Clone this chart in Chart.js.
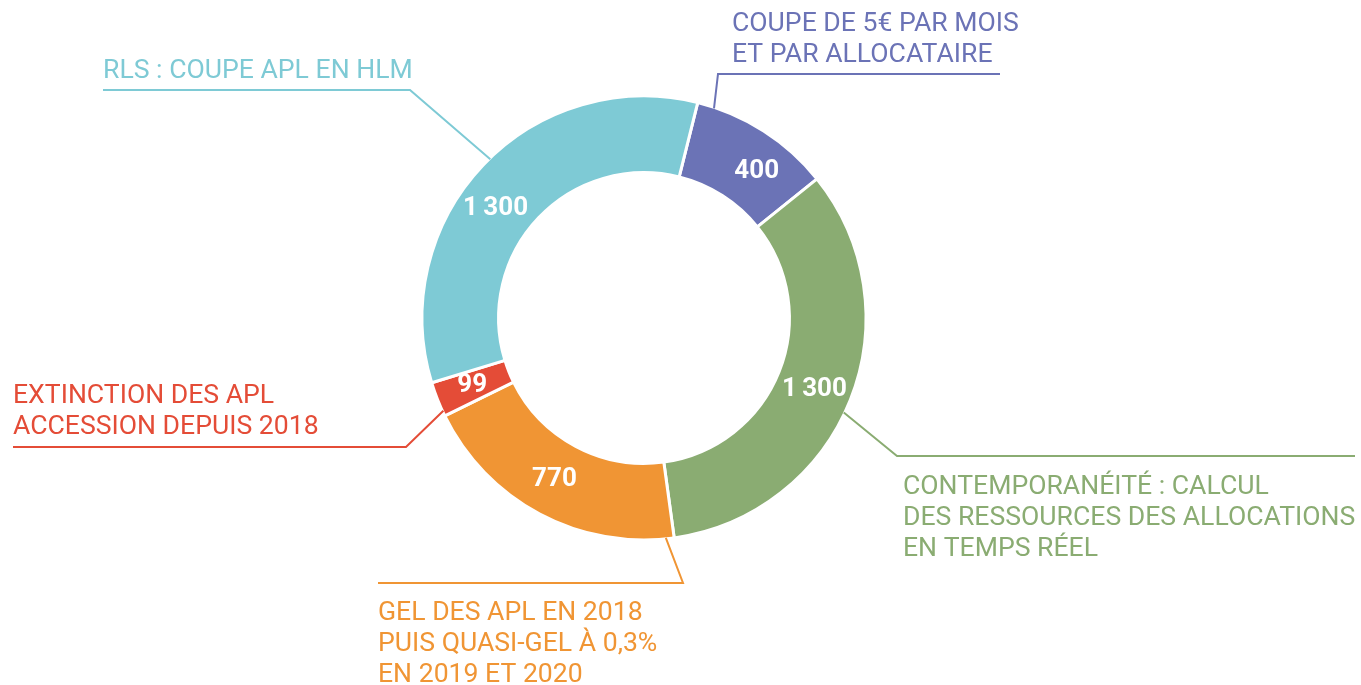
<!DOCTYPE html>
<html lang="fr">
<head>
<meta charset="utf-8">
<title>Coupes APL</title>
<script src="https://cdn.jsdelivr.net/npm/chart.js@4"></script>
<style>
  html, body { margin: 0; padding: 0; background: #fff; }
  #wrap { position: relative; width: 1361px; height: 685px; }
</style>
</head>
<body>
<div id="wrap"><canvas id="donut"></canvas></div>
<script>
// ─── DATA ──────────────────────────────────────────────────────
// Clockwise from the top, one entry per slice
const categories = [
  ['COUPE DE 5€ PAR MOIS', 'ET PAR ALLOCATAIRE'],
  ['CONTEMPORANÉITÉ : CALCUL', 'DES RESSOURCES DES ALLOCATIONS', 'EN TEMPS RÉEL'],
  ['GEL DES APL EN 2018', 'PUIS QUASI-GEL À 0,3%', 'EN 2019 ET 2020'],
  ['EXTINCTION DES APL', 'ACCESSION DEPUIS 2018'],
  ['RLS : COUPE APL EN HLM'],
];
const values = [400, 1300, 770, 99, 1300];
const colors = ['#6b73b6', '#8aac72', '#f09534', '#e44c37', '#7ecad5'];

// ─── CALLOUT LAYOUT ────────────────────────────────────────────
// at: where the leader leaves the slice (0 = slice start, 1 = slice end)
// knee: bend of the leader, end: far end of the underline, textX / base: first text line
// nudge: small angular shift (degrees) of the value inside the ring
const callouts = [
  { at: 0.12, knee: [718, 74],  end: 1000, textX: 732, base: 31,  nudge: 5  },
  { at: 0.53, knee: [897, 456], end: 1355, textX: 903, base: 494, nudge: 1  },
  { at: 0.03, knee: [683, 583], end: 378,  textX: 378, base: 620, nudge: 1  },
  { at: 0.15, knee: [406, 447], end: 13,   textX: 13,  base: 403, nudge: 0  },
  { at: 0.52, knee: [410, 90],  end: 103,  textX: 103, base: 78,  nudge: -7 },
];
const LINE_GAP = 31;

// "1300" -> "1 300" with a thin space, as in the original
function fmt(v) {
  return String(v).replace(/\B(?=(\d{3})+(?!\d))/g, '\u2009');
}

// ─── LABEL PLUGIN ──────────────────────────────────────────────
// Values inside the ring + leader lines and captions outside
const calloutPlugin = {
  id: 'callouts',
  afterDatasetsDraw(chart) {
    const ctx = chart.ctx;
    const arcs = chart.getDatasetMeta(0).data;
    ctx.save();

    arcs.forEach((arc, i) => {
      const { x, y, startAngle, endAngle, innerRadius, outerRadius } =
        arc.getProps(['x', 'y', 'startAngle', 'endAngle', 'innerRadius', 'outerRadius'], true);
      const c = callouts[i];

      // value inside the slice
      const mid = (startAngle + endAngle) / 2 + c.nudge * Math.PI / 180;
      const r = (innerRadius + outerRadius) / 2 + 1;
      ctx.fillStyle = '#fff';
      ctx.font = 'bold 26px Roboto';
      ctx.textAlign = 'center';
      ctx.textBaseline = 'middle';
      ctx.fillText(fmt(values[i]), x + Math.cos(mid) * r, y + Math.sin(mid) * r);

      // leader line: ring -> knee -> underline
      const a = startAngle + c.at * (endAngle - startAngle);
      const ro = outerRadius - 1;
      ctx.strokeStyle = colors[i];
      ctx.lineWidth = 2;
      ctx.beginPath();
      ctx.moveTo(x + Math.cos(a) * ro, y + Math.sin(a) * ro);
      ctx.lineTo(c.knee[0], c.knee[1]);
      ctx.lineTo(c.end, c.knee[1]);
      ctx.stroke();

      // caption
      ctx.fillStyle = colors[i];
      ctx.font = '26.6px Roboto';
      ctx.textAlign = 'left';
      ctx.textBaseline = 'alphabetic';
      categories[i].forEach((line, k) => {
        ctx.fillText(line, c.textX, c.base + k * LINE_GAP);
      });
    });

    ctx.restore();
  },
};

// ─── CHART ─────────────────────────────────────────────────────
new Chart(document.getElementById('donut'), {
  type: 'doughnut',
  data: {
    labels: categories.map(l => l.join(' ')),
    datasets: [{
      data: values,
      backgroundColor: colors,
      borderColor: '#fff',
      borderWidth: 3,
    }],
  },
  options: {
    responsive: true,
    maintainAspectRatio: false,
    devicePixelRatio: 1,
    animation: false,
    rotation: 14,
    radius: 222,
    cutout: '65.5%',
    layout: { padding: { left: 0, right: 73, top: 0, bottom: 49 } },
    plugins: {
      legend: { display: false },
      tooltip: { enabled: false },
    },
  },
  plugins: [calloutPlugin],
});
</script>
</body>
</html>
